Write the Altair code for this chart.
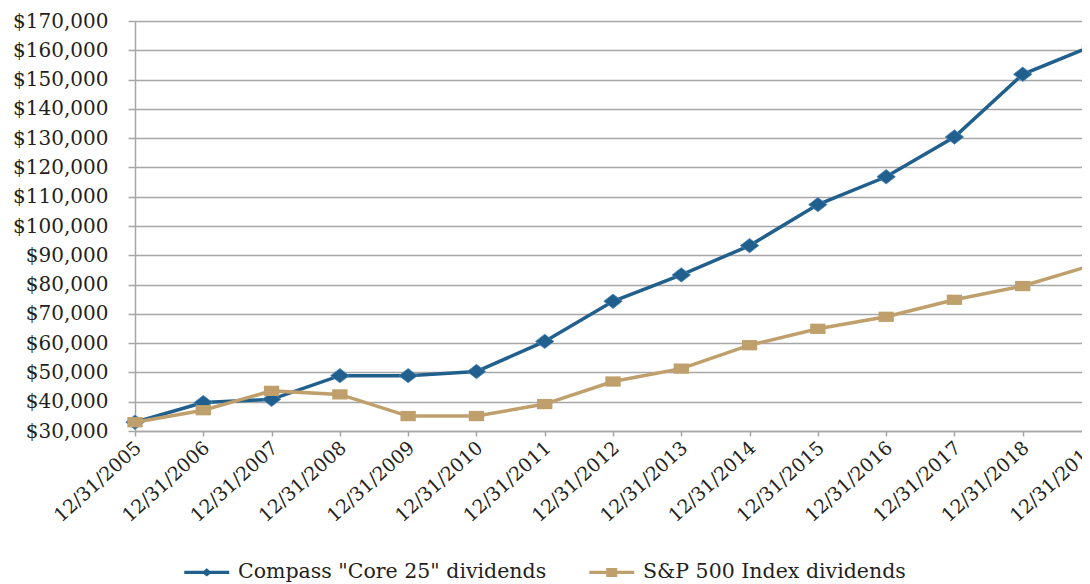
import altair as alt
import pandas as pd

# ---- data ----
dates = ["12/31/2005", "12/31/2006", "12/31/2007", "12/31/2008", "12/31/2009",
         "12/31/2010", "12/31/2011", "12/31/2012", "12/31/2013", "12/31/2014",
         "12/31/2015", "12/31/2016", "12/31/2017", "12/31/2018", "12/31/2019"]
compass = [33000, 39700, 40800, 48900, 48900, 50300, 60600, 74300, 83300, 93300,
           107300, 116800, 130400, 151800, 161300]
sp500 = [33000, 37100, 43700, 42500, 35100, 35100, 39200, 46900, 51300, 59300,
         64900, 69000, 74800, 79500, 86500]
series_names = ['Compass "Core 25" dividends', 'S&P 500 Index dividends']
colors = ["#215F8D", "#BFA06C"]
y_ticks = list(range(30000, 170001, 10000))

rows = []
for i, d in enumerate(dates):
    rows.append({"date": d, "idx": i, "series": series_names[0], "value": compass[i]})
    rows.append({"date": d, "idx": i, "series": series_names[1], "value": sp500[i]})
df = pd.DataFrame(rows)

W, H = 947, 410
X_SPAN = 956   # pixel span of the category axis; it runs past the visible right edge

FONT = "DejaVu Serif"
TXT = "#231F20"
GRID = "#A6A6A6"

label_expr = "[" + ",".join("'" + d + "'" for d in dates) + "][datum.value]"

x_enc = alt.X("idx:Q",
              scale=alt.Scale(domain=[0, len(dates) - 1], range=[0, X_SPAN], nice=False, zero=False),
              axis=alt.Axis(values=list(range(len(dates))), labelExpr=label_expr,
                            labelAngle=-42, labelAlign="right", labelBaseline="top",
                            labelOffset=-3, labelPadding=2, tickSize=5, grid=False,
                            title=None, labelOverlap=False, labelBound=False,
                            labelFlush=False, labelFontSize=19))
y_enc = alt.Y("value:Q",
              scale=alt.Scale(domain=[30000, 170000], nice=False, zero=False),
              axis=alt.Axis(values=y_ticks, format="$,.0f", tickSize=7, labelPadding=20,
                            grid=True, title=None, labelFontSize=20))

DIAMOND = "M-1,0L0,-0.78L1,0L0,0.78Z"
RECT = "M-1,-0.67L1,-0.67L1,0.67L-1,0.67Z"
LEG_DIAMOND = ("M-2.25,-0.17L2.25,-0.17L2.25,0.17L-2.25,0.17Z "
               "M-0.5,0L0,-0.42L0.5,0L0,0.42Z")
LEG_RECT = ("M-2.25,-0.17L2.25,-0.17L2.25,0.17L-2.25,0.17Z "
            "M-0.55,-0.45L0.55,-0.45L0.55,0.45L-0.55,0.45Z")

base = alt.Chart(df)

def sel(name):
    return base.transform_filter(alt.datum.series == name)

c_line = sel(series_names[0]).mark_line(strokeWidth=3.5).encode(
    x=x_enc, y=y_enc, color=alt.value(colors[0]))
c_pts = sel(series_names[0]).mark_point(filled=True, shape=DIAMOND, size=340, opacity=1,
                                        stroke="#4A86C0", strokeWidth=0.8).encode(
    x=x_enc, y=y_enc, color=alt.value(colors[0]))
s_line = sel(series_names[1]).mark_line(strokeWidth=3.5).encode(
    x=x_enc, y=y_enc, color=alt.value(colors[1]))
s_pts = sel(series_names[1]).mark_point(filled=True, shape=RECT, size=235, opacity=1).encode(
    x=x_enc, y=y_enc, color=alt.value(colors[1]))

leg = alt.Legend(orient="none", legendX=61.5, legendY=541, direction="horizontal",
                 title=None, labelFont=FONT, labelFontSize=20.5, labelColor=TXT,
                 labelOffset=21, columnPadding=42, symbolSize=400, symbolStrokeWidth=0,
                 padding=0, labelLimit=600, symbolOpacity=1)
legend_layer = base.transform_filter("false").mark_point(filled=True, size=400, opacity=1).encode(
    color=alt.Color("series:N", scale=alt.Scale(domain=series_names, range=colors), legend=leg),
    shape=alt.Shape("series:N", scale=alt.Scale(domain=series_names,
                                                range=[LEG_DIAMOND, LEG_RECT]), legend=leg),
)

chart = alt.layer(c_line, c_pts, s_line, s_pts, legend_layer).properties(
    width=W, height=H,
    autosize=alt.AutoSizeParams(type="none"),
    padding={"left": 127, "top": 13, "right": 0, "bottom": 153},
    background="white",
).configure_axis(
    labelFont=FONT, labelColor=TXT, domainColor=GRID, domainWidth=1.5,
    tickColor=GRID, tickWidth=1.5, gridColor=GRID, gridWidth=1.5,
).configure_view(strokeWidth=0)

chart.save("out.html", embed_options={"renderer": "svg", "actions": False})
